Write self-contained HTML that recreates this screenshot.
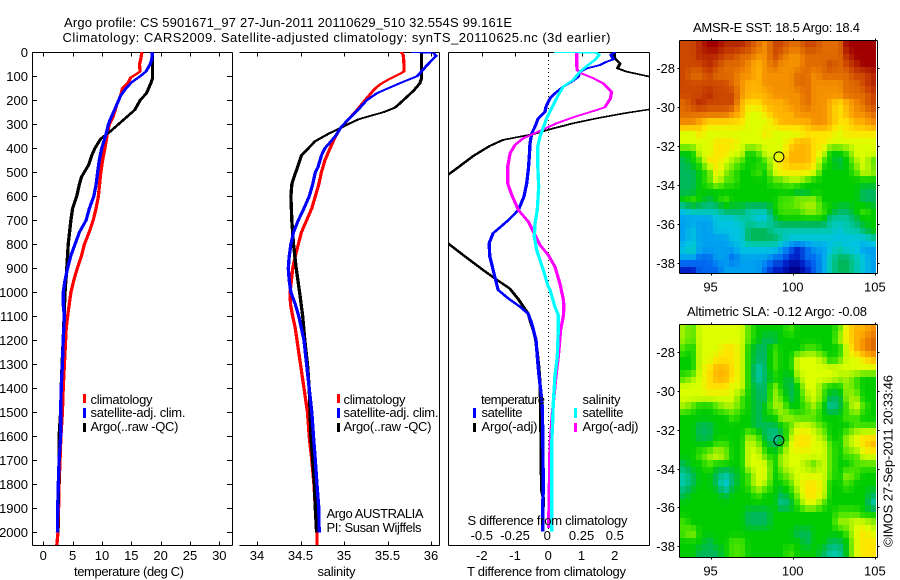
<!DOCTYPE html>
<html>
<head>
<meta charset="utf-8">
<title>Argo profile</title>
<style>
html,body{margin:0;padding:0;background:#fff;}
svg{display:block;}
text{font-family:"Liberation Sans",sans-serif;font-size:13px;fill:#000;}
</style>
</head>
<body>
<svg id="chart" xmlns="http://www.w3.org/2000/svg" width="900" height="580" viewBox="0 0 900 580">
<defs>
<filter id="pen" filterUnits="userSpaceOnUse" x="0" y="0" width="900" height="580"><feMorphology operator="dilate" radius="1 0"/></filter>
<clipPath id="clip-temp"><rect x="33" y="52" width="199" height="493"/></clipPath>
<clipPath id="clip-sal"><rect x="240" y="52" width="199" height="493"/></clipPath>
<clipPath id="clip-diff"><rect x="449" y="52" width="200" height="493"/></clipPath>
</defs>
<g id="maps"></g>
<g id="axes"></g>
<g id="g-temp" clip-path="url(#clip-temp)"></g>
<g id="g-sal" clip-path="url(#clip-sal)"></g>
<g id="g-diff" clip-path="url(#clip-diff)"></g>
<g id="labels"></g>

<text x="64" y="27" textLength="448">Argo profile: CS 5901671_97 27-Jun-2011 20110629_510 32.554S 99.161E</text>
<text x="62.5" y="42" textLength="548">Climatology: CARS2009. Satellite-adjusted climatology: synTS_20110625.nc (3d earlier)</text>

<text x="74" y="576" textLength="110">temperature (deg C)</text>
<text x="317.5" y="576" textLength="38">salinity</text>
<text x="467" y="576" textLength="159">T difference from climatology</text>
<text x="467.5" y="525" textLength="160">S difference from climatology</text>

<g>
<rect x="83" y="394" width="3" height="9" fill="#f00"/>
<rect x="83" y="408" width="3" height="10" fill="#00f"/>
<rect x="83" y="423" width="3" height="9" fill="#000"/>
<text x="90.5" y="404" textLength="62">climatology</text>
<text x="90.5" y="417" textLength="95">satellite-adj. clim.</text>
<text x="90.5" y="431" textLength="88">Argo(..raw -QC)</text>
</g>
<g>
<rect x="337" y="394" width="3" height="9" fill="#f00"/>
<rect x="337" y="408" width="3" height="10" fill="#00f"/>
<rect x="337" y="423" width="3" height="9" fill="#000"/>
<text x="343.5" y="404" textLength="62">climatology</text>
<text x="343.5" y="417" textLength="95">satellite-adj. clim.</text>
<text x="343.5" y="431" textLength="88">Argo(..raw -QC)</text>
<text x="326.5" y="518" textLength="97">Argo AUSTRALIA</text>
<text x="326.5" y="532" textLength="95">PI: Susan Wijffels</text>
</g>
<g>
<text x="481" y="404" textLength="64">temperature</text>
<rect x="473" y="408" width="3" height="10" fill="#00f"/>
<rect x="473" y="423" width="3" height="9" fill="#000"/>
<text x="481.5" y="417" textLength="41">satellite</text>
<text x="481.5" y="431" textLength="56">Argo(-adj)</text>
<text x="582.5" y="404" textLength="38">salinity</text>
<rect x="574" y="408" width="3" height="10" fill="#0ff"/>
<rect x="574" y="423" width="3" height="9" fill="#f0f"/>
<text x="582.5" y="417" textLength="41">satellite</text>
<text x="582.5" y="431" textLength="56">Argo(-adj)</text>
</g>

<text x="693" y="32" textLength="167">AMSR-E SST: 18.5 Argo: 18.4</text>
<text x="687" y="316" textLength="180">Altimetric SLA: -0.12 Argo: -0.08</text>
<text transform="translate(892.5,547) rotate(-90)" textLength="172" x="0" y="0">©IMOS 27-Sep-2011 20:33:46</text>
</svg>

<script>
// ---------- profile data: depth (m) and value ----------
const climTempDepths = [0,30,50,80,90,105,125,150,180,220,270,300,340,400,450,500,600,650,700,750,800,850,900,950,1000,1100,1150,1200,1300,1400,1500,1600,1700,1800,1900,2000,2054];
const climTempValues = [16.8,16.6,16.4,16.5,15.9,14.9,14.5,13.5,13.2,12.5,11.9,11.25,10.9,10.5,10.1,9.8,9.4,9.0,8.5,7.8,7.0,6.5,5.8,5.2,4.7,4.15,3.9,3.8,3.6,3.4,3.25,3.0,2.85,2.7,2.6,2.5,2.3];
const satTempDepths = [0,30,50,80,100,125,150,180,220,280,300,340,400,450,500,550,600,650,700,750,800,850,900,950,1000,1050,1100,1150,1200,1300,1400,1500,1600,1700,1800,1900,2000];
const satTempValues = [18.6,18.5,18.2,17.5,16.5,15.05,14.1,13.2,12.5,11.4,11.1,10.7,9.95,9.55,9.25,9.0,8.6,7.85,7.3,6.15,5.4,4.65,4.15,3.7,3.4,3.4,3.6,3.5,3.4,3.25,3.05,2.95,2.95,2.7,2.55,2.45,2.4];
const argoTempDepths = [0,110,130,170,200,240,270,300,330,360,400,430,470,520,550,600,650,700,800,900,1000,1100,1200,1300,1400,1500,1600,1700,1800,1900,2000];
const argoTempValues = [18.6,18.6,18.3,17.6,16.5,15.6,14.2,12.8,11.4,9.8,8.8,8.25,7.7,6.5,6.15,5.7,5.0,4.7,4.25,4.0,3.7,3.55,3.4,3.2,3.05,2.95,2.7,2.7,2.6,2.5,2.45];

const climSalDepths = [0,10,50,80,90,110,130,150,200,240,280,320,360,400,450,500,550,600,650,700,750,800,850,900,1000,1050,1100,1150,1200,1300,1400,1500,1600,1700,1800,1900,2000,2054];
const climSalValues = [35.655,35.68,35.69,35.69,35.64,35.53,35.43,35.36,35.24,35.15,35.05,34.95,34.89,34.84,34.78,34.74,34.71,34.67,34.63,34.57,34.51,34.475,34.44,34.41,34.38,34.385,34.41,34.44,34.46,34.5,34.54,34.58,34.6,34.63,34.655,34.67,34.69,34.69];
const satSalDepths = [0,3,15,40,80,100,120,140,170,200,240,280,310,350,400,430,480,500,550,600,650,700,750,800,850,900,950,1000,1050,1100,1150,1200,1300,1400,1500,1600,1700,1800,1900,2000];
const satSalValues = [35.78,36.03,36.06,35.99,35.89,35.84,35.7,35.57,35.38,35.26,35.16,35.05,34.97,34.9,34.78,34.74,34.7,34.67,34.64,34.6,34.54,34.475,34.42,34.39,34.37,34.36,34.37,34.39,34.44,34.48,34.51,34.54,34.57,34.6,34.63,34.65,34.67,34.69,34.71,34.715];
const argoSalDepths = [0,110,130,160,200,230,250,265,280,310,340,370,400,430,470,520,550,600,700,800,900,1000,1100,1200,1300,1400,1500,1600,1700,1800,1900,2000];
const argoSalValues = [35.89,35.89,35.87,35.8,35.68,35.59,35.45,35.3,35.16,34.99,34.82,34.67,34.59,34.51,34.475,34.425,34.4,34.39,34.4,34.42,34.45,34.49,34.525,34.55,34.58,34.6,34.61,34.62,34.64,34.66,34.67,34.685];

const satTDiffDepths = [0,11,29,39,53,67,81,102,123,143,171,192,227,248,275,310,338,380,435,490,546,601,657,699,754,796,851,935,990,1025,1060,1090,1129,1198,1268,1337,1407,1476,1546,1615,1684,1823,1893,1997];
const satTDiffValues = [2.0,1.88,1.96,1.76,1.56,1.16,0.95,0.90,0.70,0.45,0.20,0.05,-0.07,-0.10,-0.30,-0.40,-0.50,-0.55,-0.57,-0.60,-0.65,-0.73,-0.90,-1.20,-1.66,-1.78,-1.76,-1.61,-1.51,-1.21,-0.85,-0.6,-0.5,-0.37,-0.33,-0.29,-0.23,-0.18,-0.17,-0.165,-0.16,-0.15,-0.17,-0.17];
const argoTDiffDepths = [0,11,25,47,67,81,102,115,150,190,238,252,275,296,317,341,365,390,432,474,511,560,650,796,866,907,942,984,1029,1039,1090,1115,1157,1198,1254,1309,1379,1476,1629,1823,1858,1997];
const argoTDiffValues = [1.90,1.98,2.0,2.16,2.08,2.36,3.07,3.6,4.0,3.8,3.05,2.37,1.46,0.75,0.15,-0.45,-1.36,-1.76,-2.26,-2.66,-3.02,-3.5,-3.8,-3.02,-2.36,-1.96,-1.61,-1.16,-0.9,-0.85,-0.6,-0.55,-0.45,-0.38,-0.33,-0.29,-0.25,-0.23,-0.22,-0.2,-0.15,-0.17];
const satSDiffDepths = [0,2,11,32,53,81,115,143,185,234,275,352,393,463,560,657,713,768,824,907,977,990,1060,1094,1157,1268,1351,1462,1546,1643,1823,1997];
const satSDiffValues = [0.05,0.3625,0.3825,0.35,0.3,0.2375,0.1875,0.1125,0.0675,0.025,-0.0125,-0.0625,-0.08,-0.08,-0.0725,-0.0825,-0.1,-0.105,-0.0875,-0.0375,0,0.0125,0.05,0.075,0.075,0.0675,0.05,0.0375,0.0325,0.025,0.025,0.025];
const argoSDiffDepths = [0,46,74,88,108,129,164,192,229,243,271,296,324,358,386,421,477,546,594,657,706,747,803,845,893,963,1029,1060,1101,1157,1268,1351,1462,1546,1643,1823,1983];
const argoSDiffValues = [0.2125,0.2125,0.2175,0.25,0.3375,0.4125,0.475,0.4675,0.425,0.35,0.1875,0.0625,-0.05,-0.1875,-0.25,-0.2875,-0.305,-0.305,-0.275,-0.225,-0.15,-0.1125,-0.0625,0,0.05,0.0875,0.1125,0.1175,0.1125,0.0925,0.075,0.0575,0.0375,0.025,0.0125,0.0075,0.0025];

// ---------- tick labels ----------
const depthTicks = [0,100,200,300,400,500,600,700,800,900,1000,1100,1200,1300,1400,1500,1600,1700,1800,1900,2000];
const tempTicks = [0,5,10,15,20,25,30];
const salTicks = [34,34.5,35,35.5,36];
const tDiffTicks = [-2,-1,0,1,2];
const sDiffTicks = [-0.5,-0.25,0,0.25,0.5];
const lonTicks = [95,100,105];
const latTicks = [28,30,32,34,36,38];
const argoLon = 99.161;
const argoLat = 32.554;

// ---------- map levels (position on the colour ramp), rows north to south ----------
const sstLevels = [
[15,15,16,17,17,16,16,16,15,14,13,15,15,14,14,15,15,14,14,14,17,17,17,17],
[15,15,16,16,16,15,15,14,14,13,13,15,14,13,13,14,14,14,14,14,16,17,17,17],
[15,15,15,16,15,14,14,14,13,12,13,14,13,13,13,14,14,14,15,14,15,16,17,17],
[15,14,14,15,14,14,14,13,13,12,13,13,13,13,14,14,13,14,14,14,14,15,15,16],
[15,15,15,15,15,15,14,13,12,12,13,13,13,13,14,14,13,13,13,13,14,14,15,16],
[15,15,15,16,15,15,15,13,12,12,12,13,13,13,13,14,13,13,13,13,14,14,14,15],
[14,15,16,15,15,15,15,12,11,11,12,12,12,13,13,14,13,13,12,11,12,13,14,15],
[14,14,14,14,14,14,13,12,10,10,11,12,12,12,13,13,13,13,12,11,12,13,13,14],
[13,13,12,11,11,11,11,11,10,10,10,11,12,12,12,12,13,13,12,11,11,12,12,13],
[10,10,11,10,10,10,10,10,10,10,11,10,10,10,10,11,11,11,11,10,11,11,11,11],
[10,10,10,10,11,11,11,10,10,10,10,10,10,11,12,12,11,11,10,10,10,10,10,10],
[7,7,10,10,11,11,10,10,7,8,10,10,10,12,12,12,11,10,7,7,8,10,10,10],
[6,7,8,11,11,10,9,8,7,7,8,10,11,12,12,12,11,8,7,6,7,9,10,8],
[6,6,7,8,11,9,8,7,7,8,7,10,11,11,11,11,10,7,7,7,7,8,10,9],
[6,6,7,8,10,8,8,7,7,7,7,8,8,9,9,8,7,7,7,7,7,7,7,7],
[6,6,7,7,7,7,7,7,7,7,7,7,7,7,6,6,7,7,7,7,7,7,6,6],
[7,8,7,6,7,8,7,7,7,7,7,7,8,8,9,9,9,7,7,7,7,7,6,6],
[4,5,5,5,5,6,6,6,5,5,5,7,8,8,8,9,9,8,7,6,6,7,8,7],
[3,3,3,3,4,4,4,5,5,4,4,6,7,7,7,7,7,7,5,5,5,6,7,7],
[3,4,3,3,4,4,4,4,6,6,6,5,5,5,5,5,5,5,5,4,5,5,6,7],
[3,4,3,3,3,3,4,4,6,6,6,6,5,4,4,4,4,4,4,4,4,4,4,5],
[4,5,3,3,3,3,3,4,4,4,4,4,3,2,1,2,3,3,4,5,4,4,3,3],
[3,3,2,2,3,3,2,3,3,3,3,2,2,1,1,2,2,3,5,6,6,5,4,3],
[1,1,2,2,2,3,3,3,3,3,2,1,1,0,0,1,2,3,5,6,6,5,4,3]];
const slaLevels = [
[9,8,10,10,10,10,10,10,8,7,7,7,7,8,7,7,7,7,7,8,11,12,12,13],
[9,8,10,10,10,10,10,10,8,7,6,6,7,7,7,7,7,7,7,9,11,12,13,14],
[8,7,10,10,10,11,11,10,7,6,6,8,7,7,7,8,8,7,7,7,10,12,13,14],
[7,7,10,10,11,11,11,10,7,6,6,8,7,7,10,10,10,9,7,8,10,10,11,12],
[7,7,10,11,12,12,11,10,7,5,6,8,7,7,10,10,10,10,10,10,10,10,10,10],
[8,9,10,11,12,12,11,10,7,5,6,7,7,6,9,10,10,10,10,9,9,8,7,7],
[10,10,10,11,11,11,10,10,7,6,6,9,7,6,7,10,10,8,7,7,9,8,7,7],
[10,10,10,10,10,10,10,8,7,6,6,9,8,6,7,9,10,8,6,6,9,9,7,7],
[9,8,7,7,8,9,9,8,7,6,7,9,9,7,7,8,9,7,5,6,8,10,8,7],
[7,7,7,7,7,7,8,7,7,6,7,7,9,9,8,8,8,7,7,7,8,8,7,7],
[7,7,6,6,7,7,7,7,7,6,6,6,7,8,10,10,9,8,7,7,7,8,8,8],
[7,7,6,6,7,7,7,7,9,8,6,5,6,9,11,11,10,9,7,7,9,10,11,11],
[7,7,7,7,8,8,7,7,10,9,7,6,7,10,11,11,10,10,8,7,9,10,11,12],
[7,7,8,9,10,9,7,7,10,10,8,7,9,10,10,10,10,10,8,7,8,8,10,10],
[6,7,7,8,7,7,7,7,10,10,10,7,9,10,10,9,8,10,8,7,7,8,8,8],
[5,6,7,7,6,5,6,7,8,10,10,7,8,9,10,10,10,10,8,7,9,8,7,7],
[5,6,7,7,6,4,6,7,8,10,9,7,7,8,10,11,11,10,7,7,8,7,7,7],
[6,7,7,7,7,6,7,7,7,8,7,7,6,7,9,11,11,10,7,7,7,7,7,6],
[7,7,7,7,7,7,7,7,7,7,7,7,5,6,8,10,10,8,7,7,7,7,7,5],
[7,7,7,7,7,7,7,7,6,6,6,7,7,7,7,7,7,7,7,8,8,8,7,7],
[8,7,7,7,7,7,7,7,6,6,6,7,7,7,7,7,7,7,7,9,9,10,10,9],
[8,9,7,7,7,7,7,7,7,7,7,7,7,7,6,6,7,7,7,7,8,10,11,10],
[7,7,7,6,7,7,8,8,7,7,7,7,7,7,7,6,7,7,6,6,7,10,11,11],
[7,7,6,6,6,7,8,8,7,7,7,7,7,8,7,7,7,6,5,5,7,10,11,11]];

// ---------- scales ----------
const NS = 'http://www.w3.org/2000/svg';
const yDepth = d => 52.3 + 0.24 * d;
const xTemp = t => 43.3 + 5.867 * t;
const xSal = s => 257 + 87 * (s - 34);
const xTDiff = t => 548.3 + 33.25 * t;
const xSDiff = s => 548.3 + 133 * s;
const xLon = lon => 792.7 + 16.43 * (lon - 100);
const ySst = lat => 68.3 + 19.44 * (lat - 28);
const ySla = lat => 352.3 + 19.37 * (lat - 28);
const ramp = [[0,0,140],[0,32,200],[0,104,240],[0,160,240],[0,196,224],[0,200,168],[0,184,92],[0,204,0],[72,228,0],[160,240,0],[220,255,0],[255,228,0],[255,180,0],[245,144,0],[224,108,0],[204,72,0],[184,40,0],[160,0,0]];

function rampColor(v) {
  const i = Math.min(ramp.length - 2, Math.floor(v));
  const f = v - i;
  const c = ramp[i].map((a, k) => Math.round(a + (ramp[i + 1][k] - a) * f));
  return 'rgb(' + c.join(',') + ')';
}
function sampleLevel(levels, u, v) {
  const rows = levels.length, cols = levels[0].length;
  const cu = Math.max(0, Math.min(cols - 1, u)), cv = Math.max(0, Math.min(rows - 1, v));
  const c0 = Math.floor(cu), r0 = Math.floor(cv);
  const c1 = Math.min(cols - 1, c0 + 1), r1 = Math.min(rows - 1, r0 + 1);
  const fu = cu - c0, fv = cv - r0;
  return (levels[r0][c0] * (1 - fu) + levels[r0][c1] * fu) * (1 - fv) + (levels[r1][c0] * (1 - fu) + levels[r1][c1] * fu) * fv;
}
function el(tag, attrs, parent) {
  const n = document.createElementNS(NS, tag);
  for (const k in attrs) n.setAttribute(k, attrs[k]);
  parent.appendChild(n);
  return n;
}
function drawProfile(groupId, name, depths, values, xScale, color) {
  const pts = depths.map((d, i) => xScale(values[i]).toFixed(1) + ',' + yDepth(d).toFixed(1)).join(' ');
  const line = el('polyline', {points: pts, fill: 'none', stroke: color, 'stroke-width': 1.3, filter: 'url(#pen)', 'shape-rendering': 'crispEdges', 'stroke-linejoin': 'round'}, document.getElementById(groupId));
  
  
}
drawProfile('g-temp', 'temperature-climatology-line', climTempDepths, climTempValues, xTemp, '#f00');
drawProfile('g-temp', 'temperature-argo-line', argoTempDepths, argoTempValues, xTemp, '#000');
drawProfile('g-temp', 'temperature-satellite-line', satTempDepths, satTempValues, xTemp, '#00f');
drawProfile('g-sal', 'salinity-climatology-line', climSalDepths, climSalValues, xSal, '#f00');
drawProfile('g-sal', 'salinity-argo-line', argoSalDepths, argoSalValues, xSal, '#000');
drawProfile('g-sal', 'salinity-satellite-line', satSalDepths, satSalValues, xSal, '#00f');

// zero line behind difference curves
const axes = document.getElementById('axes');
const zero = el('line', {x1: Math.round(xTDiff(0)) + 0.5, x2: Math.round(xTDiff(0)) + 0.5, y1: 52, y2: yDepth(2000), stroke: '#000', 'stroke-width': 1, 'stroke-dasharray': '1 3', 'shape-rendering': 'crispEdges'}, document.getElementById('g-diff'));


drawProfile('g-diff', 't-diff-argo-line', argoTDiffDepths, argoTDiffValues, xTDiff, '#000');
drawProfile('g-diff', 't-diff-satellite-line', satTDiffDepths, satTDiffValues, xTDiff, '#00f');
drawProfile('g-diff', 's-diff-argo-line', argoSDiffDepths, argoSDiffValues, xSDiff, '#f0f');
drawProfile('g-diff', 's-diff-satellite-line', satSDiffDepths, satSDiffValues, xSDiff, '#0ff');

// ---------- axes ----------
function seg(x1, y1, x2, y2, name) {
  const l = el('line', {x1: x1, y1: y1, x2: x2, y2: y2, stroke: '#000', 'stroke-width': 1, 'shape-rendering': 'crispEdges'}, axes);
  
  
}
function label(x, y, str, anchor, name) {
  const t = el('text', {x: x, y: y, 'text-anchor': anchor}, document.getElementById('labels'));
  t.textContent = str;
  
  
}
const T = 52.5, B = 545.5;
// temperature box
seg(32.5, T, 232.5, T, 'temperature-top-axis');
seg(32.5, B, 232.5, B, 'temperature-bottom-axis');
seg(32.5, T, 32.5, B, 'temperature-left-axis');
seg(232.5, T, 232.5, B, 'temperature-right-axis');
// salinity box, open on the left
seg(239.5, T, 439.5, T, 'salinity-top-axis');
seg(239.5, B, 439.5, B, 'salinity-bottom-axis');
seg(439.5, T, 439.5, B, 'salinity-right-axis');
// difference box
seg(448.5, T, 649.5, T, 'difference-top-axis');
seg(448.5, B, 649.5, B, 'difference-bottom-axis');
seg(448.5, T, 448.5, B, 'difference-left-axis');
seg(649.5, T, 649.5, B, 'difference-right-axis');

depthTicks.forEach(d => {
  const y = Math.round(yDepth(d)) + 0.5;
  seg(32, y, 37, y, 'depth-tick-left');
  seg(227, y, 232, y, 'depth-tick-right');
  label(28, Math.round(yDepth(d)) + 5, String(d), 'end', 'depth-tick-label');
});
tempTicks.forEach(t => {
  const x = Math.round(xTemp(t)) + 0.5;
  seg(x, T, x, T + 4, 'temperature-tick-top');
  seg(x, B - 4, x, B, 'temperature-tick-bottom');
  label(xTemp(t), 560, String(t), 'middle', 'temperature-tick-label');
});
salTicks.forEach(s => {
  const x = Math.round(xSal(s)) + 0.5;
  seg(x, T, x, T + 4, 'salinity-tick-top');
  seg(x, B - 4, x, B, 'salinity-tick-bottom');
  label(xSal(s), 560, String(s), 'middle', 'salinity-tick-label');
});
tDiffTicks.forEach(t => {
  const x = Math.round(xTDiff(t)) + 0.5;
  seg(x, T, x, T + 4, 't-difference-tick-top');
  label(xTDiff(t), 560, String(t), 'middle', 't-difference-tick-label');
});
sDiffTicks.forEach(s => {
  label(xSDiff(s) - (s === 0 ? 1 : 0), 540, String(s), 'middle', 's-difference-tick-label');
});

// ---------- maps ----------
function drawMap(levels, left, top, right, bottom, yLat, prefix) {
  const g = document.getElementById('maps');
  const rows = levels.length, cols = levels[0].length;
  const dispCols = 36, dispRows = 36;
  const cw = (right - left) / dispCols, ch = (bottom - top) / dispRows;
  for (let r = 0; r < dispRows; r++) {
    for (let c = 0; c < dispCols; c++) {
      const x0 = Math.round(left + c * cw), x1 = Math.round(left + (c + 1) * cw);
      const y0 = Math.round(top + r * ch), y1 = Math.round(top + (r + 1) * ch);
      const u = (c + 0.5) / dispCols * cols - 0.5;
      const v = (r + 0.5) / dispRows * rows - 0.5;
      const cell = el('rect', {x: x0, y: y0, width: x1 - x0, height: y1 - y0, fill: rampColor(sampleLevel(levels, u, v)), 'shape-rendering': 'crispEdges'}, g);
      
      
    }
  }
  const bx = 679.5, bxr = 877.5, by = top - 0.5, byb = bottom + 0.5;
  seg(bx, by, bxr, by, prefix + '-map-top-axis');
  seg(bx, byb, bxr, byb, prefix + '-map-bottom-axis');
  seg(bx, by, bx, byb, prefix + '-map-left-axis');
  seg(bxr, by, bxr, byb, prefix + '-map-right-axis');
  lonTicks.forEach(lon => {
    const x = Math.round(xLon(lon)) + 0.5;
    seg(x, by - 2, x, by, prefix + '-map-lon-tick-top');
    seg(x, byb, x, byb + 2, prefix + '-map-lon-tick-bottom');
    label(xLon(lon), byb + 18, String(lon), 'middle', prefix + '-map-lon-label');
  });
  latTicks.forEach(lat => {
    const y = Math.round(yLat(lat)) + 0.5;
    seg(bx - 2, y, bx, y, prefix + '-map-lat-tick-left');
    seg(bxr, y, bxr + 2, y, prefix + '-map-lat-tick-right');
    label(675, Math.round(yLat(lat)) + 5, '-' + lat, 'end', prefix + '-map-lat-label');
  });
  const mark = el('circle', {cx: xLon(argoLon), cy: yLat(argoLat), r: 5, fill: 'none', stroke: '#000', 'stroke-width': 1}, g);
  
  
}
drawMap(sstLevels, 680, 41, 876, 273, ySst, 'sst');
drawMap(slaLevels, 680, 325, 876, 557, ySla, 'sla');
</script>
</body>
</html>
